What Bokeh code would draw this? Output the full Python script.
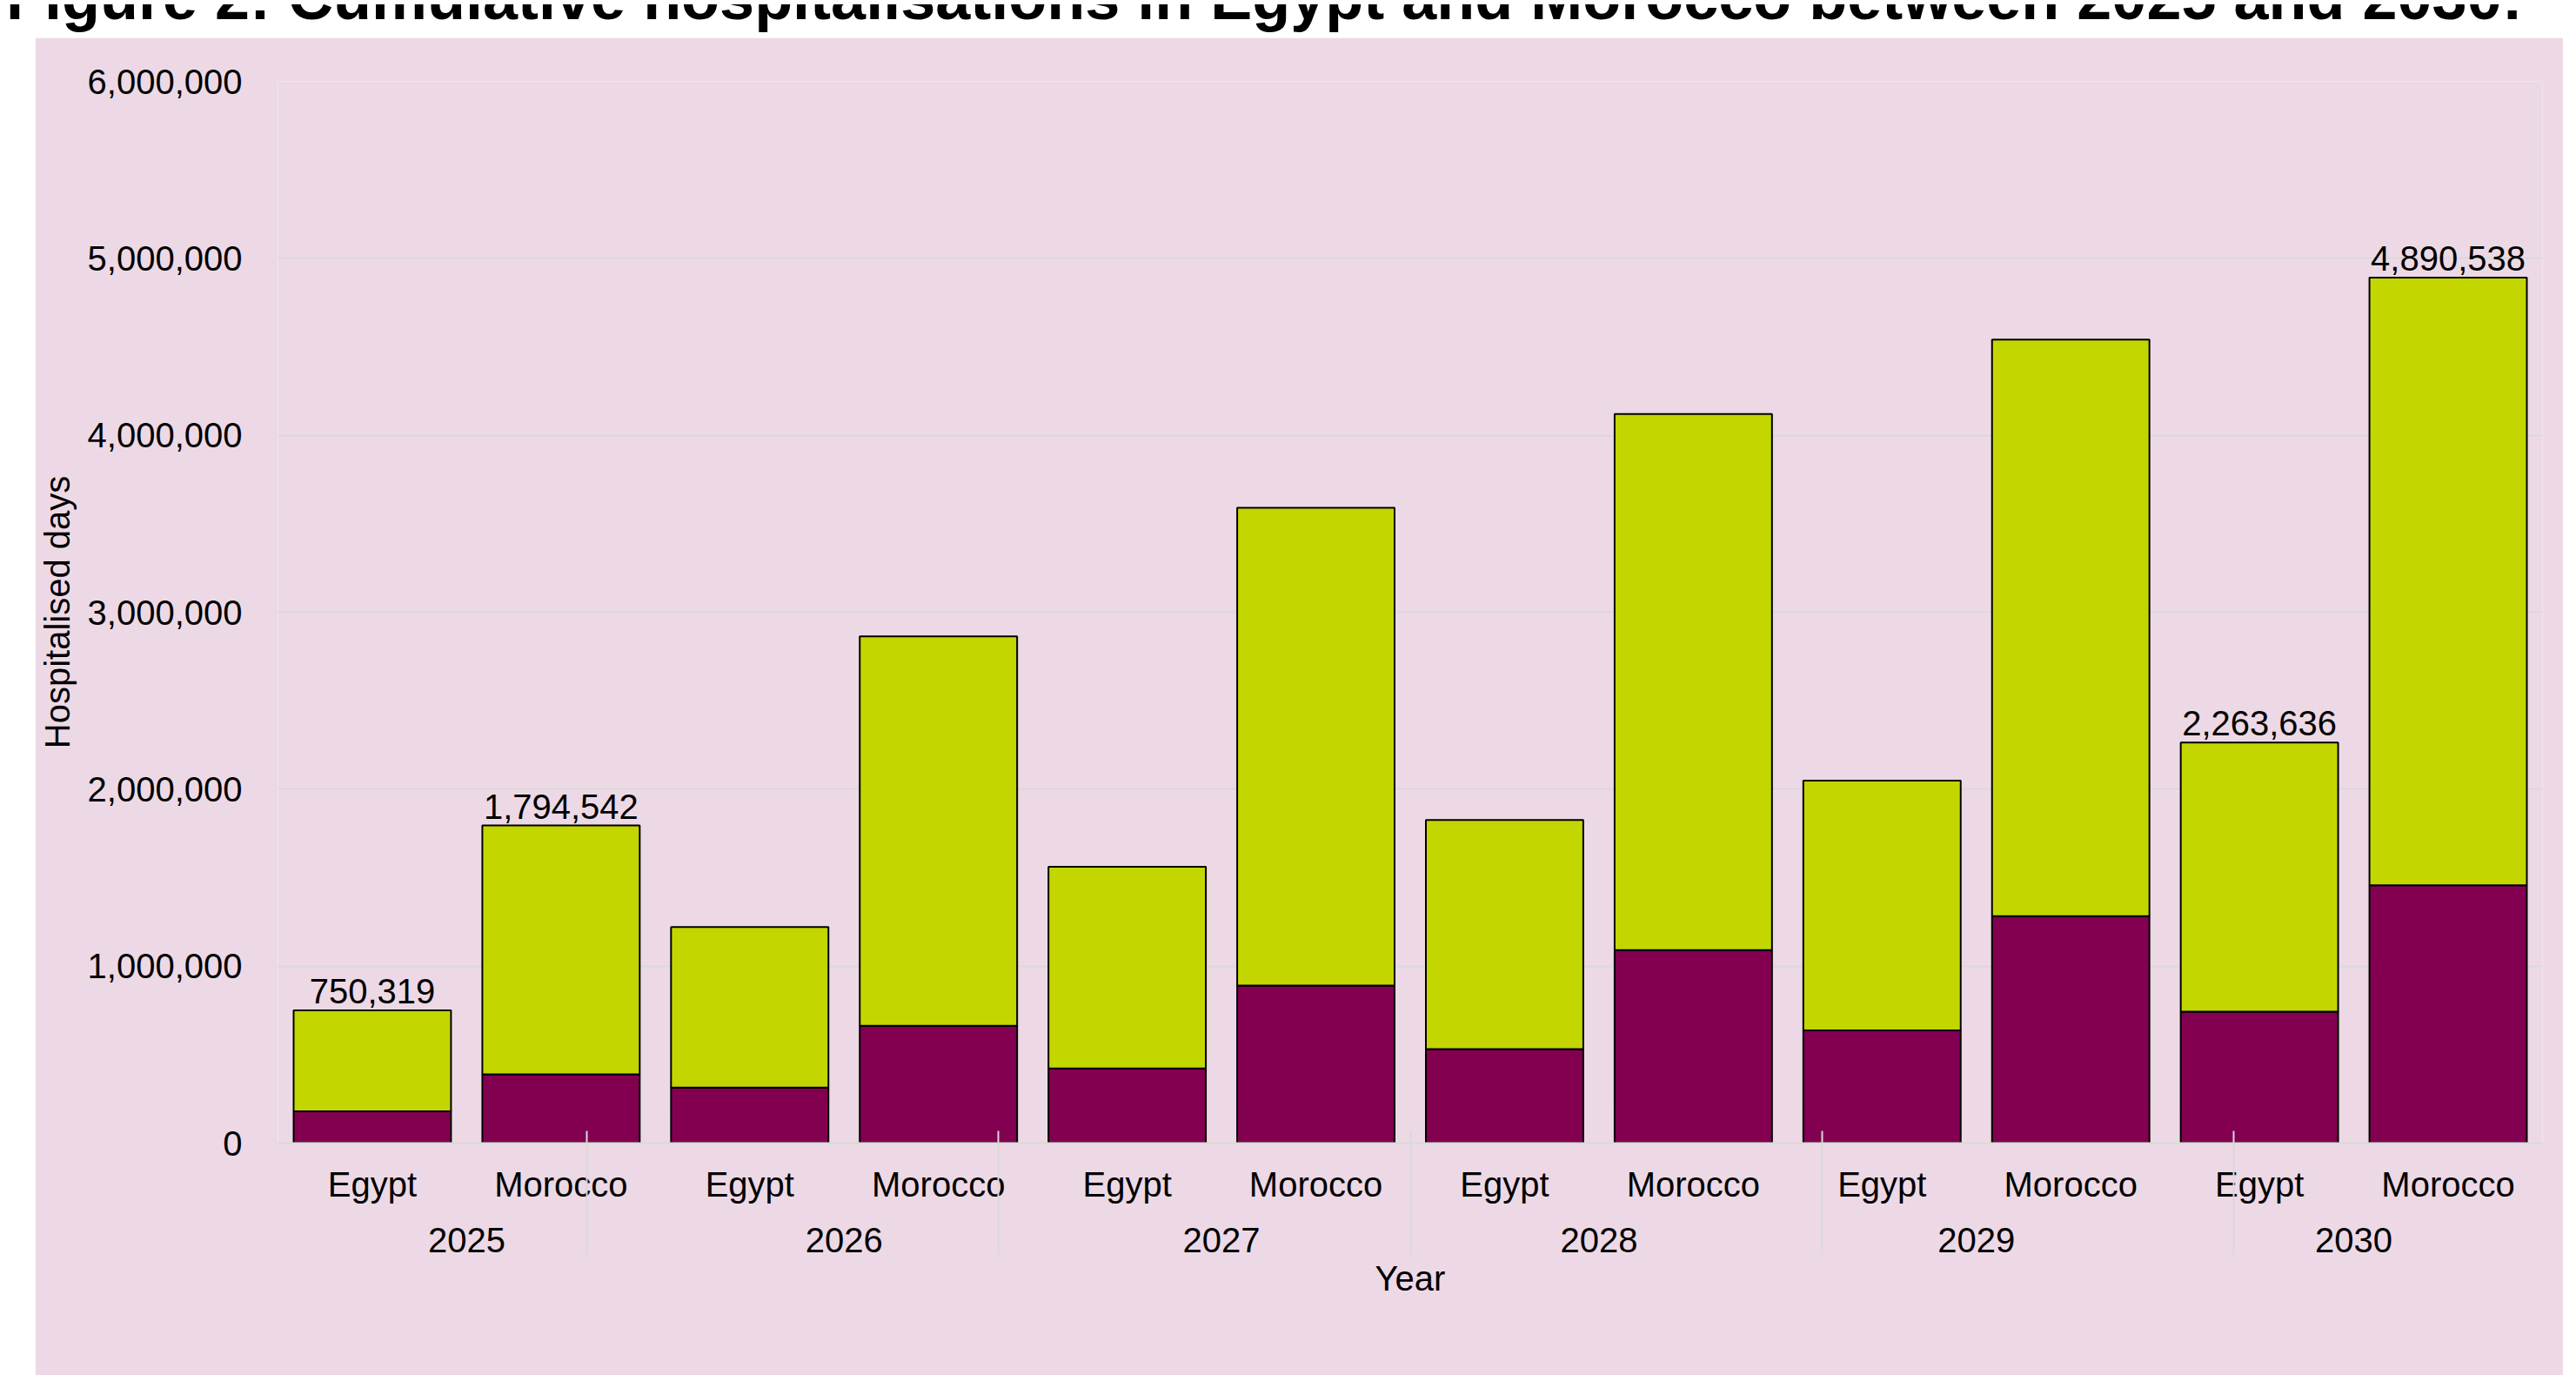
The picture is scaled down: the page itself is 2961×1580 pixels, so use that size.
from bokeh.plotting import figure
from bokeh.models import (FactorRange, Range1d, CategoricalAxis,
                          SingleIntervalTicker, NumeralTickFormatter, Legend, LegendItem,
                          ColumnDataSource, Div)
from bokeh.layouts import column
from bokeh.embed import file_html
from bokeh.resources import INLINE
from bokeh.core.properties import value

# ---------------- data ----------------
title_text = "Figure 2: Cumulative hospitalisations in Egypt and Morocco between 2025 and 2030:"
years = ["2025", "2026", "2027", "2028", "2029", "2030"]
countries = ["Egypt", "Morocco"]
egypt_stage4 = [180000, 314000, 422000, 531000, 637000, 743000]
egypt_stage5 = [570319, 907000, 1140000, 1295000, 1411000, 1520636]
morocco_stage4 = [389000, 663000, 890000, 1090000, 1282000, 1457000]
morocco_stage5 = [1405542, 2200000, 2700000, 3030000, 3259000, 3433538]
labelled_years = ["2025", "2030"]
series_names = ["CKD stage 4 hospitalisations", "CKD stage 5 hospitalisations"]
y_axis_title = "Hospitalised days"
x_axis_title = "Year"

# ---------------- styling ----------------
FONT = "Liberation Sans"
PINK = "#EDD9E5"
MULBERRY = "#830051"
LIME = "#C4D600"
GRID = "#D9D9D9"
FS = "40px"

factors, s4, s5 = [], [], []
for i, y in enumerate(years):
    factors.append((y, "Egypt")); s4.append(egypt_stage4[i]); s5.append(egypt_stage5[i])
    factors.append((y, "Morocco")); s4.append(morocco_stage4[i]); s5.append(morocco_stage5[i])
totals = [a + b for a, b in zip(s4, s5)]

source = ColumnDataSource(dict(x=factors, s4=s4, s5=s5))
lab_idx = [i for i, f in enumerate(factors) if f[0] in labelled_years]
label_source = ColumnDataSource(dict(
    x=[factors[i] for i in lab_idx],
    y=[totals[i] for i in lab_idx],
    text=[f"{totals[i]:,}" for i in lab_idx],
))

x_range = FactorRange(*factors, factor_padding=0, group_padding=0, range_padding=0)
p = figure(x_range=x_range, y_range=Range1d(0, 6000000),
           frame_width=2603, frame_height=1220,
           min_border_left=275, min_border_right=24, min_border_top=50, min_border_bottom=200,
           output_backend="svg", toolbar_location=None, x_axis_location=None,
           background_fill_color=PINK, border_fill_color=PINK, outline_line_color=None)
p.margin = (0, 19, 0, 40)

renderers = p.vbar_stack(["s4", "s5"], x="x", width=0.834, source=source,
                         fill_color=[MULBERRY, LIME], line_color="black", line_width=2)

p.text(x="x", y="y", text="text", source=label_source, text_align="center",
       text_baseline="alphabetic", y_offset=-22, text_font=value(FONT),
       text_font_size=FS, text_color="black")

# y axis
yax = p.yaxis[0]
yax.ticker = SingleIntervalTicker(interval=1000000)
yax.formatter = NumeralTickFormatter(format="0,0")
yax.major_label_text_font = FONT
yax.major_label_text_font_size = FS
yax.major_label_text_color = "black"
yax.major_tick_line_color = None
yax.minor_tick_line_color = None
yax.axis_line_color = None
yax.major_label_standoff = 35
yax.axis_label = y_axis_title
yax.axis_label_text_font = FONT
yax.axis_label_text_font_size = FS
yax.axis_label_text_font_style = "normal"
yax.axis_label_text_color = "black"
yax.axis_label_standoff = 10

p.xgrid.grid_line_color = None
p.ygrid.grid_line_color = GRID
p.ygrid.grid_line_width = 2

# category axis (country / year)
cat = CategoricalAxis(major_tick_in=0, major_tick_out=0,
                      axis_line_color=GRID, axis_line_width=2,
                      separator_line_color=None,
                      major_label_text_font=FONT, major_label_text_font_size=FS,
                      major_label_text_color="black", major_label_standoff=25,
                      group_text_font=FONT, group_text_font_size=FS,
                      group_text_font_style="normal", group_text_color="black")
p.add_layout(cat, "below")

# group separator axis: an extra factor range whose factor centres fall on group boundaries
bounds = [f"b{i}" for i in range(len(years) + 1)]
p.extra_x_ranges = {"sep": FactorRange(*bounds, factor_padding=1, range_padding=-1,
                                       range_padding_units="absolute")}
sep = CategoricalAxis(x_range_name="sep", major_tick_in=142, major_tick_out=0,
                      major_tick_line_color=GRID, major_tick_line_width=2,
                      axis_line_color=None, major_label_standoff=0,
                      major_label_text_font_size="0px",
                      axis_label=x_axis_title, axis_label_text_font=FONT,
                      axis_label_text_font_size=FS, axis_label_text_font_style="normal",
                      axis_label_text_color="black", axis_label_standoff=5)
p.add_layout(sep, "below")

legend = Legend(items=[LegendItem(label=series_names[0], renderers=[renderers[0]]),
                       LegendItem(label=series_names[1], renderers=[renderers[1]])],
                orientation="horizontal", location=(589, 0), padding=0, margin=0,
                spacing=87, label_standoff=11, glyph_width=22, glyph_height=21,
                label_text_font=FONT, label_text_font_size=FS, label_text_color="black",
                background_fill_alpha=0, border_line_color=None)
p.add_layout(legend, "below")

title_html = ('<div style="position:relative;width:2961px;height:33px;overflow:hidden;">'
              '<div style="position:absolute;left:2px;top:-44px;white-space:nowrap;'
              "font-family:'Liberation Sans',Arial,sans-serif;font-weight:bold;font-size:72px;"
              'line-height:1;color:#000;">' + title_text + '</div></div>')
title_div = Div(text=title_html, width=2961, height=33)

layout = column(title_div, p)
open("out.html", "w").write(file_html(layout, INLINE))
